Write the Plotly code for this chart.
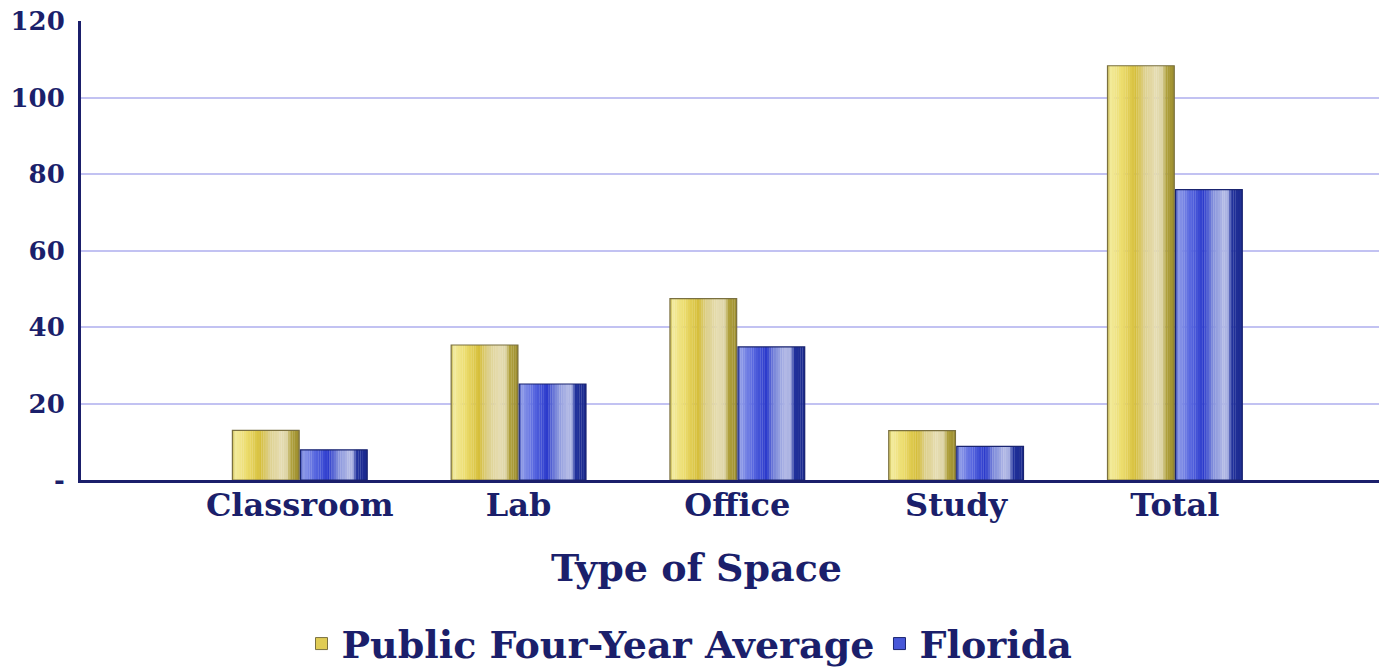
import plotly.graph_objects as go

# ---- data ----
categories = ["Classroom", "Lab", "Office", "Study", "Total"]
public_avg = [13, 35.3, 47.4, 12.9, 108.3]
florida = [7.9, 25.1, 34.8, 8.8, 75.9]
y_tick_vals = [0, 20, 40, 60, 80, 100, 120]
y_tick_text = ["-", "20", "40", "60", "80", "100", "120"]

# ---- style ----
NAVY = "#1b1f6b"
FONT = "DejaVu Serif"
x_pos = list(range(len(categories)))
BAR_W = 0.305
N_SLICES = 30

yellow_stops = [
    (0.00, "#c8b850"), (0.04, "#f3eb9c"), (0.22, "#ecdc6c"), (0.42, "#d6bf3c"),
    (0.55, "#ddd08c"), (0.72, "#e6ddb2"), (0.84, "#dcd3a2"), (0.86, "#b3a440"),
    (1.00, "#9d8e2e"),
]
blue_stops = [
    (0.00, "#4050b8"), (0.04, "#8e9be8"), (0.22, "#5868e0"), (0.42, "#2c3bcc"),
    (0.56, "#8390dc"), (0.72, "#b2b9e6"), (0.80, "#a4ace0"), (0.83, "#22329e"),
    (1.00, "#1b2a8e"),
]


def hex2rgb(h):
    h = h.lstrip("#")
    return tuple(int(h[i:i + 2], 16) for i in (0, 2, 4))


def interp(stops, t):
    for (t0, c0), (t1, c1) in zip(stops[:-1], stops[1:]):
        if t0 <= t <= t1:
            a = 0 if t1 == t0 else (t - t0) / (t1 - t0)
            r0, g0, b0 = hex2rgb(c0)
            r1, g1, b1 = hex2rgb(c1)
            return "rgb(%d,%d,%d)" % (r0 + (r1 - r0) * a, g0 + (g1 - g0) * a, b0 + (b1 - b0) * a)
    return stops[-1][1]


fig = go.Figure()

series = [
    ("Public Four-Year Average", public_avg, yellow_stops, -BAR_W - 0.003, "#7a7040", "#e0cc55"),
    ("Florida", florida, blue_stops, 0.003, "#1a2470", "#4858d8"),
]

for name, vals, stops, off0, edge, legend_col in series:
    sw = BAR_W / N_SLICES
    for i in range(N_SLICES):
        t = (i + 0.5) / N_SLICES
        fig.add_trace(go.Bar(
            x=x_pos, y=vals, width=sw * 1.08, offset=off0 + i * sw,
            marker=dict(color=interp(stops, t), line=dict(width=0)),
            showlegend=False, hoverinfo="skip", legendgroup=name,
        ))
    # outline + hover
    fig.add_trace(go.Bar(
        x=x_pos, y=vals, width=BAR_W, offset=off0, name=name,
        marker=dict(color="rgba(0,0,0,0)", line=dict(color=edge, width=1.2)),
        showlegend=False, legendgroup=name,
        hovertemplate="%{customdata}: %{y}<extra>" + name + "</extra>",
        customdata=categories,
    ))
    # legend entry
    fig.add_trace(go.Bar(
        x=[None], y=[None], name=name, legendgroup=name,
        marker=dict(color=legend_col, line=dict(color=edge, width=1)),
    ))

fig.update_layout(
    width=1379, height=670,
    barmode="overlay",
    plot_bgcolor="white", paper_bgcolor="white",
    margin=dict(l=81, r=0, t=21, b=190, autoexpand=False),
    font=dict(family=FONT, color=NAVY, weight="bold"),
    xaxis=dict(
        range=[-1.0, 4.933], tickvals=x_pos, ticktext=categories,
        showgrid=False, zeroline=False, showline=True, linecolor=NAVY, linewidth=3,
        ticks="", tickfont=dict(size=32, family=FONT, color=NAVY, weight="bold"),
        ticklabelstandoff=-5, automargin=False, ticklabeloverflow="allow",
    ),
    yaxis=dict(
        range=[0, 120], tickvals=y_tick_vals, ticktext=y_tick_text,
        showgrid=True, gridcolor="#c2c2f2", gridwidth=1.5, zeroline=False,
        showline=True, linecolor=NAVY, linewidth=3, ticks="",
        tickfont=dict(size=26, family=FONT, color=NAVY, weight="bold"),
        ticklabelstandoff=8, automargin=False, ticklabeloverflow="allow",
    ),
    legend=dict(
        orientation="h", xref="container", yref="container",
        x=0.5, xanchor="center", y=0.039, yanchor="middle",
        font=dict(size=38, family=FONT, color=NAVY, weight="bold"),
        itemwidth=30, tracegroupgap=0,
    ),
    annotations=[dict(
        text="Type of Space", xref="paper", yref="paper", x=0.474, y=-0.19,
        xanchor="center", yanchor="middle", showarrow=False,
        font=dict(size=38, family=FONT, color=NAVY, weight="bold"),
    )],
)

fig.write_html(
    "out.html",
    config={"displayModeBar": False},
    post_script="document.body.style.margin='0';document.body.style.overflow='hidden';",
)
